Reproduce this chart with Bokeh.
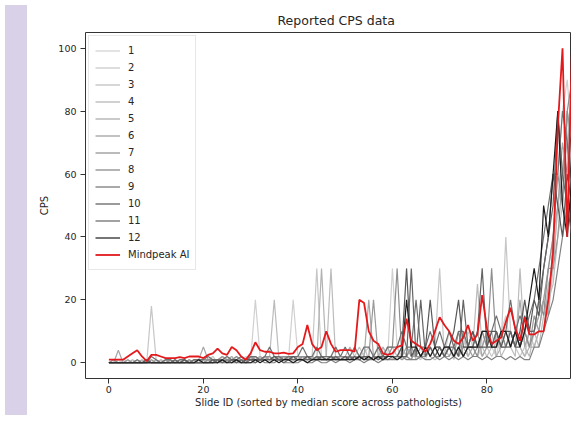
from bokeh.plotting import figure
from bokeh.models import Range1d, FixedTicker, Div
from bokeh.layouts import row
from bokeh.embed import file_html
from bokeh.resources import INLINE

slide_ids = list(range(100))

s1 = [0,0,0,1,0,0,0,0,0,1, 0,1,0,0,1,0,0,1,0,1, 1,0,1,1,0,2,1,0,1,2, 1,20,2,1,0,2,1,2,1,20,
      2,1,2,1,5,2,1,2,5,2, 1,2,5,2,3,5,2,1,5,2, 30,5,2,5,3,2,5,1,5,2, 5,2,10,5,2,5,10,5,2,5,
      10,5,2,10,15,5,10,5,2,10, 10,15,20,30,40,60,80,90,70,100]
s2 = [0,0,1,0,0,0,1,0,0,18, 1,0,0,1,0,1,0,0,1,0, 0,1,2,0,1,1,0,2,1,1, 2,1,1,2,1,1,2,1,2,1,
      1,2,1,2,30,1,2,1,2,1, 2,1,2,5,2,1,2,5,1,2, 2,5,1,2,5,2,1,5,2,5, 30,2,5,1,5,2,5,10,5,2,
      5,2,5,5,40,10,5,2,5,10, 5,10,20,15,30,50,60,70,90,80]
s3 = [0,1,0,0,1,0,0,0,1,0, 0,0,1,0,0,1,0,1,0,0, 1,0,0,1,1,0,1,1,0,1, 1,2,1,1,2,20,1,2,1,2,
      2,1,2,1,2,1,2,30,1,2, 1,2,1,2,5,1,2,1,2,5, 5,2,5,2,1,5,2,5,2,1, 2,5,2,5,2,10,2,5,25,5,
      2,5,10,2,5,5,2,30,5,2, 10,5,15,20,25,40,50,80,60,90]
s4 = [0,0,0,0,0,1,0,0,0,0, 0,1,0,0,1,0,0,0,1,1, 0,1,1,0,2,1,0,1,1,0, 2,1,2,1,1,2,1,1,2,1,
      1,2,1,2,1,30,2,1,2,1, 2,5,2,1,2,2,1,2,5,2, 2,2,5,2,5,1,2,2,5,2, 5,2,5,2,5,5,2,5,5,10,
      5,10,2,5,10,5,10,5,2,5, 5,10,10,25,30,50,60,70,80,100]
s5 = [0,0,4,0,0,0,0,1,0,0, 1,0,0,0,1,0,1,0,0,1, 5,1,0,1,1,1,2,0,1,1, 1,1,2,1,2,1,2,1,1,2,
      2,1,1,2,1,2,1,2,2,1, 1,2,2,1,2,20,2,1,2,5, 1,2,2,5,2,2,5,2,5,2, 2,5,5,2,5,2,5,5,10,2,
      5,5,10,5,5,10,5,20,5,10, 10,15,20,15,40,50,70,60,90,80]
s6 = [0,0,0,0,1,0,0,0,0,1, 0,0,1,0,0,0,1,0,1,0, 1,1,0,1,2,1,1,1,0,1, 1,2,1,2,1,1,2,2,1,1,
      2,2,1,1,2,1,1,2,1,2, 2,1,2,2,1,2,20,2,1,2, 2,2,1,2,5,2,2,5,2,5, 5,2,2,5,2,5,5,2,5,5,
      10,5,5,10,5,5,10,5,10,5, 15,10,20,30,30,40,60,80,70,90]
s7 = [0,1,0,0,0,0,0,0,1,0, 0,0,0,1,0,0,0,1,0,0, 0,1,1,1,0,1,1,2,1,0, 2,1,1,2,2,1,1,2,2,1,
      1,2,2,1,2,2,1,1,2,2, 2,2,1,2,2,1,2,2,1,2, 5,30,2,2,1,5,2,2,5,2, 2,5,5,2,10,2,5,5,2,10,
      5,30,5,10,5,5,10,5,10,5, 10,20,15,30,40,60,50,80,90,70]
s8 = [0,0,0,0,0,0,0,0,0,0, 0,0,0,0,0,0,0,0,0,0, 0,0,0,0,0,1,0,0,0,0, 0,0,1,0,0,0,1,0,0,0,
      0,1,0,0,1,0,0,1,0,1, 1,0,1,1,0,1,1,0,1,1, 1,1,2,1,1,1,2,1,1,2, 1,2,1,2,1,2,1,2,2,1,
      2,1,2,2,1,2,1,2,1,1, 5,5,10,15,20,30,40,50,60,70]
s9 = [0,0,0,0,0,0,1,0,0,2, 1,0,1,1,0,1,1,0,1,1, 1,2,1,1,1,2,1,1,2,1, 2,2,1,2,5,2,2,1,2,2,
      2,5,2,2,5,2,2,2,5,2, 5,2,5,2,5,5,2,5,2,5, 5,5,10,5,5,20,5,5,10,5, 10,5,10,5,10,10,5,10,5,10,
      10,10,15,10,10,20,10,15,10,15, 20,30,40,50,60,60,80,70,50,60]
s10 = [0,0,0,0,0,0,0,0,1,0, 0,0,0,0,0,0,1,0,0,0, 0,0,1,0,1,0,1,1,0,1, 1,1,1,1,1,2,1,1,1,2,
       1,1,2,1,1,2,1,2,1,1, 2,1,2,1,2,2,1,2,2,2, 2,2,5,30,2,5,2,5,20,5, 5,2,5,10,20,5,5,10,5,5,
       5,10,10,5,10,10,5,10,20,10, 20,15,30,40,60,50,40,60,50,40]
s11 = [0,0,0,0,0,0,0,0,0,0, 0,0,0,0,1,0,0,0,0,0, 0,0,0,1,0,0,1,0,1,0, 1,0,1,1,1,1,1,0,1,1,
       1,1,1,1,2,1,1,1,2,1, 1,2,1,2,1,1,2,1,2,1, 2,2,2,2,30,2,20,2,5,2, 5,2,5,5,2,20,5,5,10,30,
       5,5,10,5,5,10,5,5,15,10, 10,20,30,40,50,80,60,50,40,60]
s12 = [0,0,0,0,0,0,0,0,0,0, 0,0,0,0,0,0,0,0,0,1, 0,0,0,0,1,0,0,1,0,0, 0,1,0,1,0,1,0,1,1,0,
       1,1,0,1,1,1,1,1,1,1, 1,1,1,2,1,2,1,2,1,2, 2,1,2,20,5,5,2,5,2,5, 2,5,5,2,5,2,5,5,5,10,
       10,5,5,10,10,5,10,5,10,20, 30,20,50,40,60,80,50,40,60,50]
mindpeak_ai = [1,1,1,1,2,3,4,2,0.5,2.5, 2.5,2,1.5,1.5,1.5,1.8,1.5,2,2,2,
               1.5,2.5,3,4.5,3,2.5,5,4,2,1, 3,6.5,4,3.5,3.5,3,3,3.2,2.8,3,
               5,6,12,6,4,5,10,6,3.5,4, 4,4,3.5,20,19,10,7,6,3,2.5,
               3,5,5.5,14,7,6,5,3.5,6,10, 14.5,12,10,7,6,8,12,7,9,21.5,
               11,6,7,8,13,17.5,11,7,14.5,9, 9,10,10,20,35,75,100,40,100,50]

pathologists = [s1, s2, s3, s4, s5, s6, s7, s8, s9, s10, s11, s12]
labels = [str(k) for k in range(1, 13)]
grays = ["#d0d0d0", "#c6c6c6", "#bcbcbc", "#b2b2b2", "#a6a6a6", "#9a9a9a",
         "#8e8e8e", "#828282", "#707070", "#585858", "#646464", "#1a1a1a"]
x_ticks = [0, 20, 40, 60, 80, 100]
y_ticks = [0, 20, 40, 60, 80, 100]

FONT = "DejaVu Sans"
TXT = "#262626"

p = figure(width=539, height=410, output_backend="svg", toolbar_location=None,
           x_range=Range1d(-4.95, 97.9), y_range=Range1d(-5, 105),
           min_border_left=53, min_border_right=0, min_border_top=32, min_border_bottom=30,
           background_fill_color="white", border_fill_color="white")

p.title.text = "Reported CPS data"
p.title.text_font = FONT
p.title.text_font_size = "12.5px"
p.title.text_font_style = "normal"
p.title.text_color = TXT
p.title.align = "left"
p.title.offset = 192

for vals, lab, col in zip(pathologists, labels, grays):
    p.line(slide_ids, vals, line_color=col, line_width=1.2, legend_label=lab)
p.line(slide_ids, mindpeak_ai, line_color="#e3191c", line_width=1.8, legend_label="Mindpeak AI")

p.grid.visible = False
p.outline_line_color = "#333333"
p.outline_line_width = 1

for ax in (p.xaxis[0], p.yaxis[0]):
    ax.axis_line_color = None
    ax.major_tick_line_color = "#333333"
    ax.minor_tick_line_color = None
    ax.major_tick_out = 5
    ax.major_tick_in = 0
    ax.major_label_text_font = FONT
    ax.major_label_text_font_size = "9.5px"
    ax.major_label_text_color = TXT
    ax.axis_label_text_font = FONT
    ax.axis_label_text_font_size = "10px"
    ax.axis_label_text_font_style = "normal"
    ax.axis_label_text_color = TXT

p.xaxis.ticker = FixedTicker(ticks=x_ticks)
p.yaxis.ticker = FixedTicker(ticks=y_ticks)
p.xaxis.axis_label = "Slide ID (sorted by median score across pathologists)"
p.yaxis.axis_label = "CPS"
p.xaxis.major_label_standoff = 2
p.xaxis.axis_label_standoff = 1
p.yaxis.major_label_standoff = 4
p.yaxis.axis_label_standoff = 5

lg = p.legend[0]
lg.location = "top_left"
lg.margin = 3
lg.padding = 6
lg.spacing = 0
lg.label_height = 17
lg.glyph_height = 17
lg.glyph_width = 25
lg.label_standoff = 8
lg.label_text_font = FONT
lg.label_text_font_size = "10px"
lg.label_text_color = TXT
lg.border_line_color = "#d0d0d0"
lg.border_line_width = 1
lg.background_fill_alpha = 0.8

side = Div(width=22, height=410, styles={"background-color": "#d9d1e7"})
layout = row(side, p)

open("out.html", "w").write(file_html(layout, INLINE))
